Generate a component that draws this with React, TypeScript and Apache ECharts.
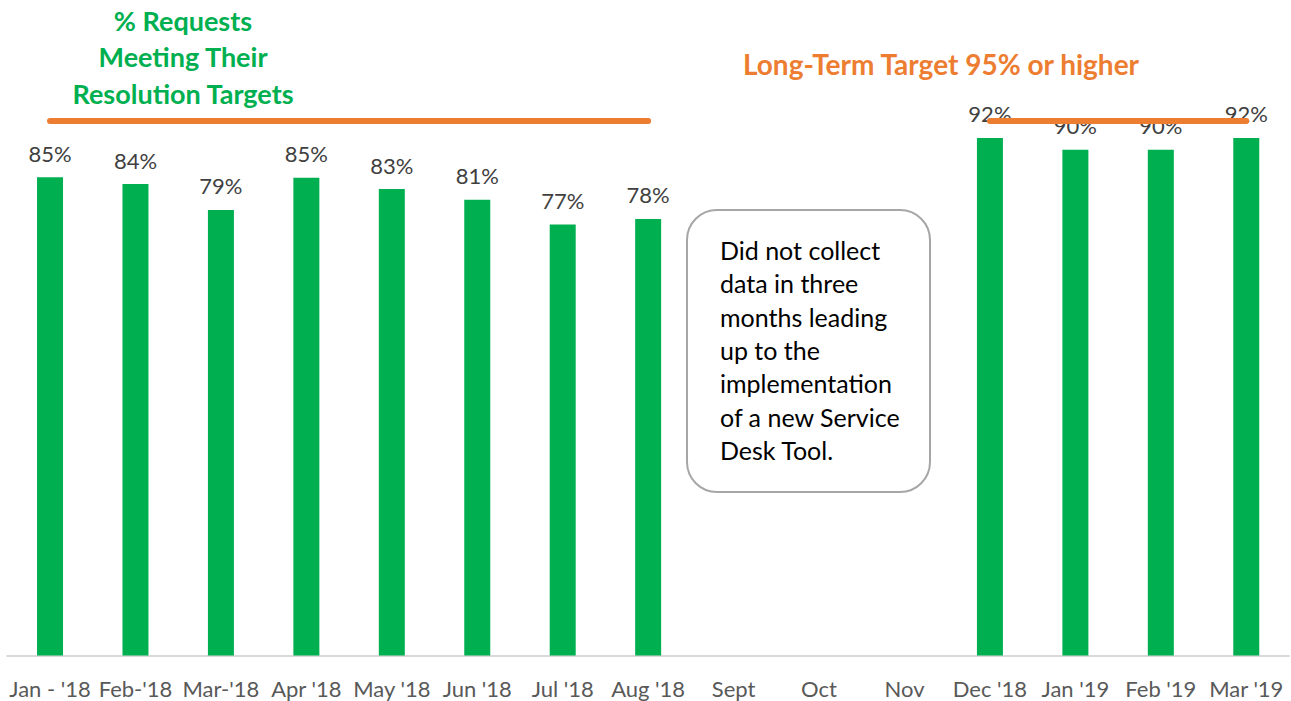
import React, { useEffect, useRef } from "react";
import * as echarts from "echarts";

const categories = [
  "Jan - '18", "Feb-'18", "Mar-'18", "Apr '18", "May '18", "Jun '18", "Jul '18", "Aug '18",
  "Sept", "Oct", "Nov", "Dec '18", "Jan '19", "Feb '19", "Mar '19",
];
const pctMeeting = [85, 83.8, 79.2, 84.9, 82.9, 81, 76.6, 77.6, null, null, null, 92, 89.9, 89.9, 92];
const targetLine = [95, 95, 95, 95, 95, 95, 95, 95, null, null, null, 95, 95, 95, 95];
const titleLines = ["% Requests", "Meeting Their", "Resolution Targets"];
const targetTitle = "Long-Term Target 95% or higher";
const noteLines = [
  "Did not collect",
  "data in three",
  "months leading",
  "up to the",
  "implementation",
  "of a new Service",
  "Desk Tool.",
];

const FONT = "Lato, 'Open Sans', sans-serif";

export default function App() {
  const ref = useRef<HTMLDivElement>(null);
  useEffect(() => {
    if (!ref.current) return;
    const chart = echarts.init(ref.current, null, { renderer: "svg" });
    chart.setOption({
      animation: false,
      grid: { left: 7.3, right: 2, top: 92.9, bottom: 45.5, containLabel: false },
      xAxis: {
        type: "category",
        data: categories,
        axisTick: { show: false },
        axisLine: { lineStyle: { color: "#d9d9d9", width: 2 } },
        axisLabel: { color: "#595959", fontSize: 22, fontFamily: FONT, margin: 22, interval: 0 },
      },
      yAxis: {
        type: "value",
        min: 0,
        max: 100,
        show: false,
        splitLine: { show: false },
      },
      series: [
        {
          type: "bar",
          data: pctMeeting,
          barWidth: 26,
          itemStyle: { color: "#00b050" },
          label: {
            show: true,
            position: "top",
            distance: 13,
            color: "#404040",
            fontSize: 22,
            fontFamily: FONT,
            formatter: (p: any) => Math.round(p.value) + "%",
          },
          z: 2,
        },
        {
          type: "line",
          data: targetLine,
          symbol: "none",
          connectNulls: false,
          lineStyle: { color: "#ed7d31", width: 6, cap: "round" },
          z: 3,
        },
      ],
      graphic: [
        ...titleLines.map((t, i) => ({
          type: "text",
          x: 183,
          y: 20 + i * 36.5,
          style: {
            text: t,
            fill: "#00b050",
            font: `bold 27px ${FONT}`,
            textAlign: "center",
            textVerticalAlign: "middle",
          },
        })),
        {
          type: "text",
          x: 941,
          y: 64,
          style: {
            text: targetTitle,
            fill: "#ed7d31",
            font: `bold 28px ${FONT}`,
            textAlign: "center",
            textVerticalAlign: "middle",
          },
        },
        {
          type: "rect",
          shape: { x: 687, y: 210, width: 243, height: 282, r: 30 },
          style: { fill: "#ffffff", stroke: "#a6a6a6", lineWidth: 2 },
        },
        ...noteLines.map((t, i) => ({
          type: "text",
          x: 720,
          y: 250 + i * 33.3,
          style: {
            text: t,
            fill: "#000000",
            font: `25px ${FONT}`,
            textAlign: "left",
            textVerticalAlign: "middle",
          },
        })),
      ],
    });
    return () => chart.dispose();
  }, []);
  return <div ref={ref} style={{ width: 1291, height: 701, position: "absolute", left: 0, top: 0 }} />;
}
